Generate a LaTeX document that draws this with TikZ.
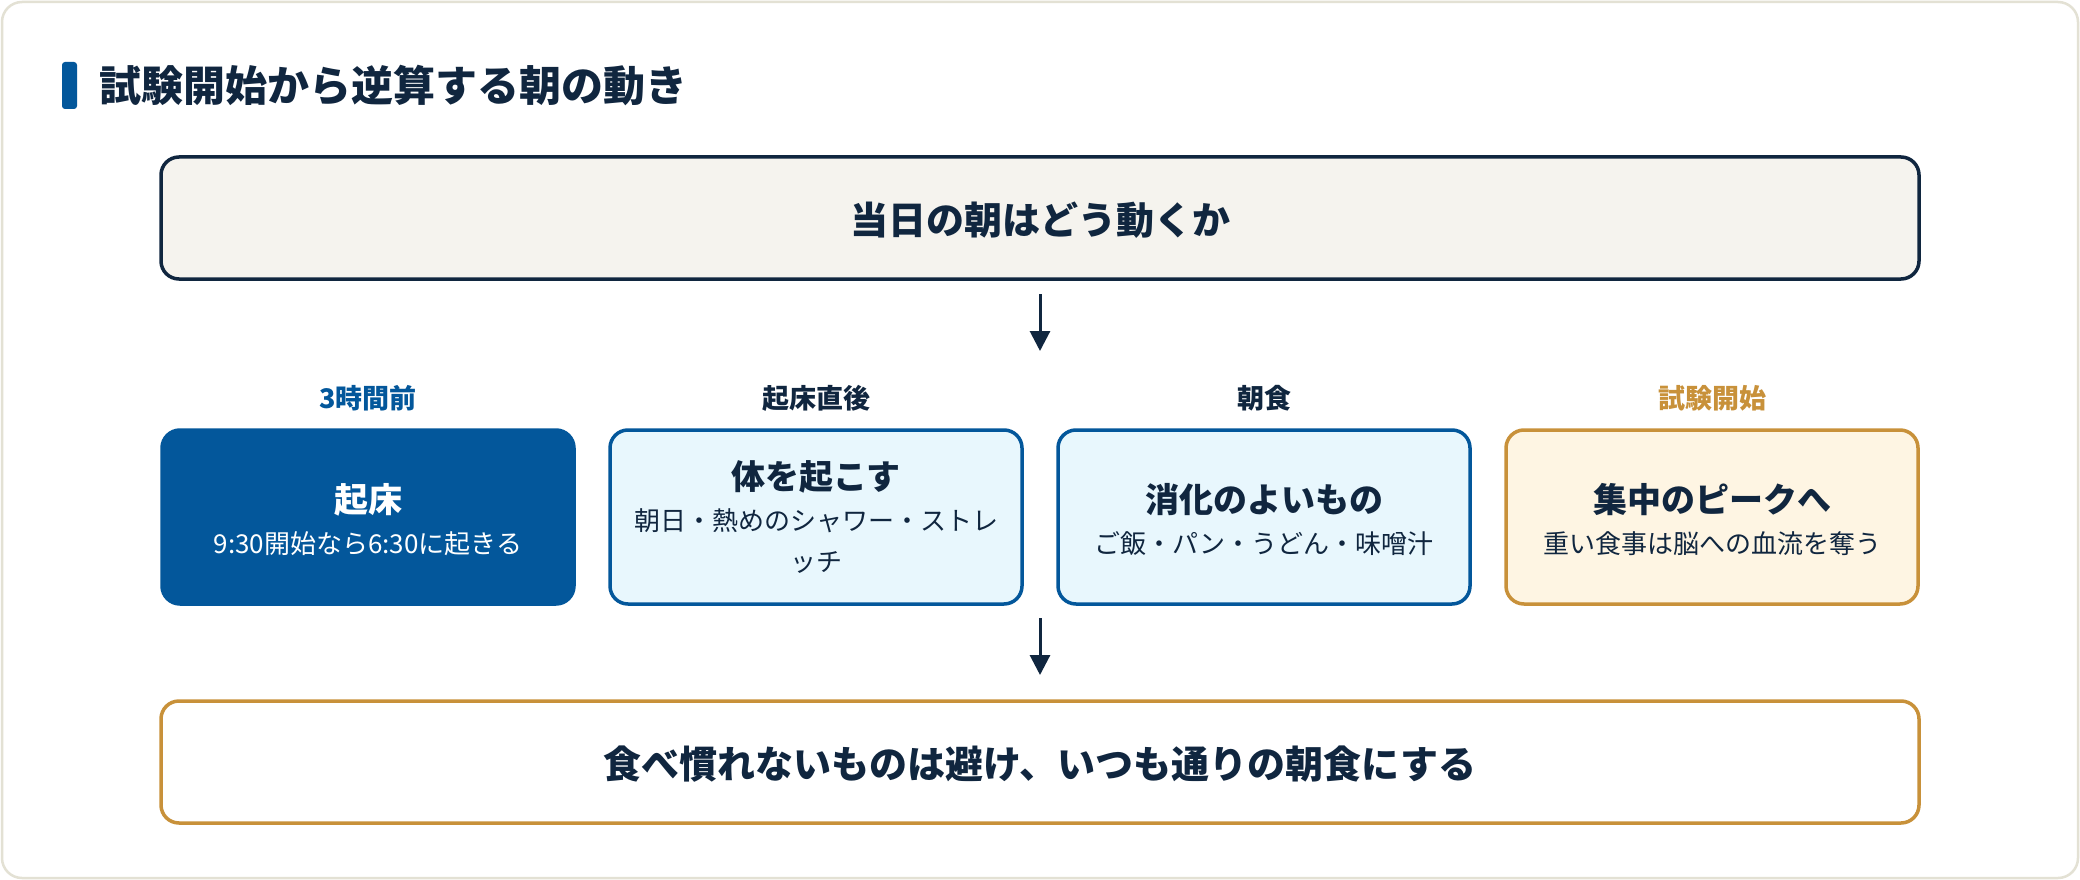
\documentclass[tikz,border=0pt]{standalone}
\usepackage{fontspec}
\setmainfont{Noto Sans CJK JP}
\usetikzlibrary{arrows.meta}
\definecolor{navy}{HTML}{10263F}
\definecolor{mblue}{HTML}{03579B}
\definecolor{gold}{HTML}{C8913A}
\definecolor{lcyan}{HTML}{E8F7FD}
\definecolor{cream}{HTML}{FEF5E3}
\definecolor{paper}{HTML}{F5F3EE}
\definecolor{framec}{HTML}{E3E1D4}
\tikzset{
  wide/.style={draw=navy, line width=3.5pt, rounded corners=18pt, minimum width=1758pt, minimum height=122pt, inner sep=0pt},
  card/.style={line width=3.5pt, rounded corners=18pt, minimum width=412pt, minimum height=174pt, inner sep=0pt},
  bigtxt/.style={font=\fontsize{38}{44}\selectfont\bfseries, text=navy, inner sep=0pt},
  lbl/.style={font=\fontsize{27}{32}\selectfont\bfseries, inner sep=0pt},
  ttl/.style={font=\fontsize{34}{40}\selectfont\bfseries, text=navy, inner sep=0pt},
  sub/.style={font=\fontsize{26}{41}\selectfont, text=navy, inner sep=0pt, align=center},
  flow/.style={draw=navy, line width=3pt, -{Triangle[length=20pt,width=20pt]}}
}
\begin{document}
\begin{tikzpicture}[x=1pt,y=-1pt]
\useasboundingbox (0,0) rectangle (2080,880);
\fill[white] (0,0) rectangle (2080,880);
\draw[framec, line width=2.5pt, fill=white, rounded corners=20pt] (2,2) rectangle (2078,878);
% title
\fill[mblue, rounded corners=3pt] (62,62) rectangle (77,109);
\node[anchor=west, font=\fontsize{42}{48}\selectfont\bfseries, text=navy, inner sep=0pt] (title) at (99,86) {試験開始から逆算する朝の動き};
% top box
\node[wide, fill=paper] (top) at (1040,218) {};
\node[bigtxt] (toptxt) at (1040,220) {当日の朝はどう動くか};
% arrow 1
\coordinate (a1s) at (1040,294);
\coordinate (a1e) at (1040,351);
\draw[flow] (a1s) -- (a1e);
% labels
\node[lbl, text=mblue] (l1) at (368,398) {3時間前};
\node[lbl, text=navy] (l2) at (816,398) {起床直後};
\node[lbl, text=navy] (l3) at (1264,398) {朝食};
\node[lbl, text=gold] (l4) at (1712,398) {試験開始};
% cards
\node[card, draw=mblue, fill=mblue] (c1) at (368,517) {};
\node[card, draw=mblue, fill=lcyan] (c2) at (816,517) {};
\node[card, draw=mblue, fill=lcyan] (c3) at (1264,517) {};
\node[card, draw=gold, fill=cream] (c4) at (1712,517) {};
\node[ttl, text=white] (t1) at (368,500) {起床};
\node[sub, text=white] (s1) at (368,544) {9:30開始なら6:30に起きる};
\node[ttl] (t2) at (816,477) {体を起こす};
\node[sub] (s2) at (816,541) {朝日・熱めのシャワー・ストレ\\ッチ};
\node[ttl] (t3) at (1264,500) {消化のよいもの};
\node[sub] (s3) at (1264,544) {ご飯・パン・うどん・味噌汁};
\node[ttl] (t4) at (1712,500) {集中のピークへ};
\node[sub] (s4) at (1712,544) {重い食事は脳への血流を奪う};
% arrow 2
\coordinate (a2s) at (1040,618);
\coordinate (a2e) at (1040,675);
\draw[flow] (a2s) -- (a2e);
% bottom box
\node[wide, draw=gold, fill=white] (bot) at (1040,762) {};
\node[bigtxt] (bottxt) at (1040,764) {食べ慣れないものは避け、いつも通りの朝食にする};
\end{tikzpicture}
\end{document}
